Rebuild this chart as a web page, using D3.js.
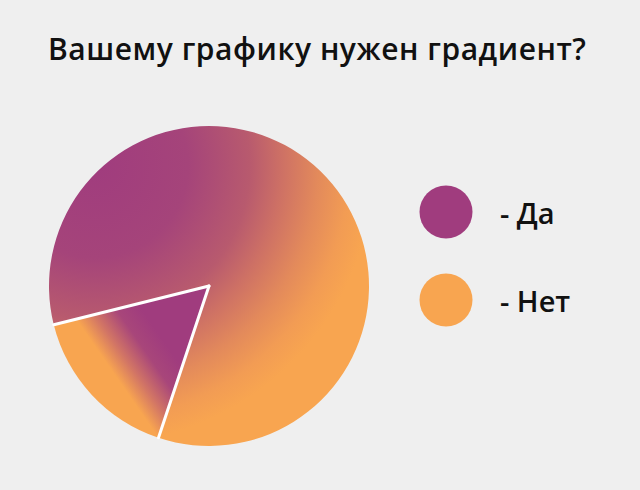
<!DOCTYPE html>
<meta charset="utf-8">
<script src="https://cdn.jsdelivr.net/npm/d3@7"></script>
<style>
body{margin:0; background:#efefef;}
svg{display:block;}
.title, .legend-label{font-family:"Open Sans",sans-serif; font-weight:600; fill:#111;}
</style>
<div id="vis"></div>
<script>

// Data
const labels = ["Нет", "Да"];
const values = [84, 16];
const colors = {"Да": "#a03c7e", "Нет": "#f8a550"};
const legendLabels = ["Да", "Нет"];
const titleText = "Вашему графику нужен градиент?";

const w = 640, h = 490;
const cx = 209, cy = 286, r = 160;

let svg = d3.select("#vis").append("svg")
    .attr("width", w)
    .attr("height", h);

svg.append("rect").attr("width", w).attr("height", h).attr("fill", "#efefef");

// Gradients (coords relative to the pie centre)
let defs = svg.append("defs");

// big slice: fades out from the top-left
let gBig = defs.append("radialGradient")
    .attr("id", "grad-big")
    .attr("gradientUnits", "userSpaceOnUse")
    .attr("cx", -114).attr("cy", -121)
    .attr("r", 310);
[[0, colors["Да"]], [0.3, "#a5447a"], [0.5, "#b85a6e"], [0.6, "#cd7065"], [0.72, "#e38a5b"], [0.82, "#f29c54"], [0.9, colors["Нет"]], [1, colors["Нет"]]]
  .forEach(s => gBig.append("stop").attr("offset", s[0]).attr("stop-color", s[1]));

// small slice: purple at the tip, orange at the rim
let gSmall = defs.append("linearGradient")
    .attr("id", "grad-small")
    .attr("gradientUnits", "userSpaceOnUse")
    .attr("x1", -64).attr("y1", 28)
    .attr("x2", -113).attr("y2", 62);
[[0, colors["Да"]], [0.35, "#a8467a"], [0.7, "#d27565"], [1, colors["Нет"]]]
  .forEach(s => gSmall.append("stop").attr("offset", s[0]).attr("stop-color", s[1]));

const start = 256 * Math.PI / 180;
let pie = d3.pie().sort(null)
    .value(d => d.value)
    .startAngle(start)
    .endAngle(start + 2 * Math.PI);
let arc = d3.arc().innerRadius(0).outerRadius(r);

let data = labels.map((d, i) => ({label: d, value: values[i]}));
let arcs = pie(data);

let g = svg.append("g")
    .attr("transform", "translate(" + cx + "," + cy + ")");

g.selectAll(".slice")
  .data(arcs)
  .enter().append("path")
    .attr("class", "slice")
    .attr("d", arc)
    .attr("fill", (d, i) => i == 0 ? "url(#grad-big)" : "url(#grad-small)");

// white separators between slices
g.selectAll(".sep")
  .data(arcs)
  .enter().append("line")
    .attr("class", "sep")
    .attr("x1", 0).attr("y1", 0)
    .attr("x2", d => r * Math.sin(d.startAngle))
    .attr("y2", d => -r * Math.cos(d.startAngle))
    .attr("stroke", "#fff")
    .attr("stroke-width", 3)
    .attr("stroke-linecap", "round");

// Title
svg.append("text")
    .attr("class", "title")
    .attr("x", 317).attr("y", 60)
    .attr("text-anchor", "middle")
    .attr("font-size", 30)
    .attr("textLength", 538)
    .text(titleText);

// Legend
let lg = svg.selectAll(".legend")
  .data(legendLabels)
  .enter().append("g")
    .attr("class", "legend")
    .attr("transform", (d, i) => "translate(446," + (212 + i * 88) + ")");

lg.append("circle")
    .attr("r", 26.5)
    .attr("fill", d => colors[d]);

lg.append("text")
    .attr("class", "legend-label")
    .attr("x", 54).attr("y", 12)
    .attr("font-size", 29)
    .text(d => "- " + d);

</script>
